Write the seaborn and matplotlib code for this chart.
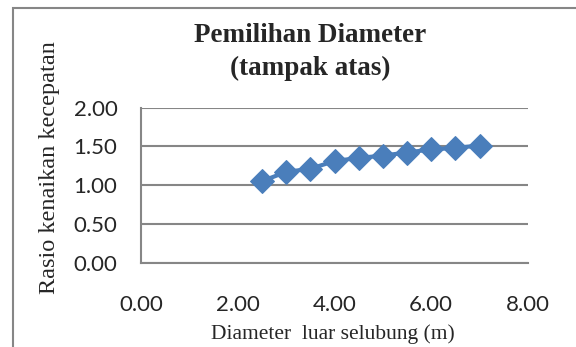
import matplotlib
matplotlib.use("Agg")
import matplotlib.pyplot as plt
import seaborn as sns
import pandas as pd
from matplotlib.patches import Rectangle

diameter = [2.5, 3.0, 3.5, 4.0, 4.5, 5.0, 5.5, 6.0, 6.5, 7.0]
rasio = [1.05, 1.17, 1.21, 1.31, 1.35, 1.38, 1.42, 1.46, 1.48, 1.51]
xticks = [0, 2, 4, 6, 8]
yticks = [0.0, 0.5, 1.0, 1.5, 2.0]

df = pd.DataFrame({"Diameter": diameter, "Rasio": rasio})

sns.set_style("white")
serif = ["Liberation Serif", "DejaVu Serif"]
sans = ["Lato", "DejaVu Sans"]

fig = plt.figure(figsize=(5.76, 3.47), dpi=100)
ax = fig.add_axes([141/576, 1 - 262.7/347, (528-141)/576, (262.7-107.5)/347])

blue = "#4A7EBB"
sns.lineplot(data=df, x="Diameter", y="Rasio", ax=ax, color=blue, linewidth=3,
             marker="D", markersize=12, markeredgecolor=blue, markerfacecolor=blue)

ax.set_xlim(0, 8)
ax.set_ylim(0, 2)
ax.set_xticks(xticks)
ax.set_yticks(yticks)
ax.set_xticklabels([f"{v:.2f}" for v in xticks], fontfamily=sans, fontsize=16)
ax.set_yticklabels([f"{v:.2f}" for v in yticks], fontfamily=sans, fontsize=16)
ax.tick_params(axis="x", length=0, pad=23)
ax.tick_params(axis="y", length=0, pad=17)
ax.set_xlabel("")
ax.set_ylabel("")
ax.grid(axis="y", color="#868686", linewidth=1.5)
ax.grid(axis="x", visible=False)
for s in ["top", "right"]:
    ax.spines[s].set_visible(False)
for s in ["left", "bottom"]:
    ax.spines[s].set_color("#868686")
    ax.spines[s].set_linewidth(1.5)

fig.text(310/576, 1 - 35/347, "Pemilihan Diameter", ha="center", va="center",
         fontfamily=serif, fontweight="bold", fontsize=19.5)
fig.text(310/576, 1 - 68/347, "(tampak atas)", ha="center", va="center",
         fontfamily=serif, fontweight="bold", fontsize=19.5)
fig.text(333/576, 1 - 334/347, "Diameter  luar selubung (m)", ha="center", va="center",
         fontfamily=serif, fontsize=15.5)
fig.text(50/576, 1 - 168/347, "Rasio kenaikan kecepatan", ha="center", va="center",
         rotation=90, fontfamily=serif, fontsize=17.5)

fig.patches.append(Rectangle((12.7/576, -0.2), 1.2, 1 - 7.5/347 + 0.2, transform=fig.transFigure,
                             fill=False, edgecolor="#868686", linewidth=1.5))

fig.savefig("out.png", dpi=100)
